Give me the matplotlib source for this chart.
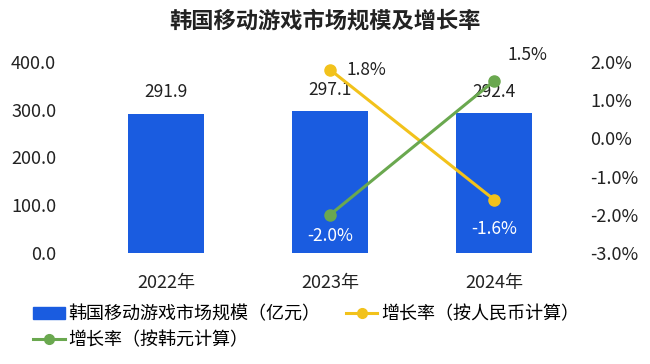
import matplotlib
matplotlib.use("Agg")
import matplotlib.pyplot as plt
from matplotlib.lines import Line2D
from matplotlib.patches import Patch

plt.rcParams['font.family'] = ['Noto Sans CJK SC', 'DejaVu Sans']

years = ["2022年", "2023年", "2024年"]
market_size = [291.9, 297.1, 292.4]
growth_cny_years = [1, 2]
growth_cny = [1.8, -1.6]
growth_krw_years = [1, 2]
growth_krw = [-2.0, 1.5]

left_ticks = [0, 100, 200, 300, 400]
right_ticks = [-3, -2, -1, 0, 1, 2]

bar_color = "#1a5ce0"
yellow = "#f2c21b"
green = "#6aa84f"
text_color = "#222222"

fig = plt.figure(figsize=(6.5, 3.64), dpi=100)
ax = fig.add_axes([84/650, 1-253/364, (576-84)/650, (253-62)/364])
ax2 = ax.twinx()

x = list(range(len(years)))
bars = ax.bar(x, market_size, width=0.46, color=bar_color, zorder=2)
ax.set_xlim(-0.5, 2.5)
ax.set_ylim(0, 400)
ax.set_yticks(left_ticks)
ax.set_yticklabels([f"{v:.1f}" for v in left_ticks])
ax.set_xticks(x)
ax.set_xticklabels(years)

for xi, v in zip(x, market_size):
    ax.annotate(f"{v:.1f}", (xi, v), xytext=(0, 9), textcoords="offset points",
                ha="center", va="bottom", fontsize=12.5, color=text_color)

ax2.set_ylim(-3, 2)
ax2.set_yticks(right_ticks)
ax2.set_yticklabels([f"{v:.1f}%" for v in right_ticks])

ax2.plot(growth_cny_years, growth_cny, color=yellow, lw=2.2, marker="o", ms=8,
         zorder=3)
ax2.plot(growth_krw_years, growth_krw, color=green, lw=2.2, marker="o", ms=8,
         zorder=3)

# labels for lines
ax2.annotate(f"{growth_cny[0]:.1f}%", (growth_cny_years[0], growth_cny[0]),
             xytext=(12, 0), textcoords="offset points", ha="left", va="center",
             fontsize=12.5, color=text_color)
ax2.annotate(f"{growth_cny[1]:.1f}%", (growth_cny_years[1], growth_cny[1]),
             xytext=(0, -15), textcoords="offset points", ha="center", va="top",
             fontsize=12.5, color="white")
ax2.annotate(f"{growth_krw[0]:.1f}%", (growth_krw_years[0], growth_krw[0]),
             xytext=(0, -9), textcoords="offset points", ha="center", va="top",
             fontsize=12.5, color="white")
ax2.annotate(f"{growth_krw[1]:.1f}%", (growth_krw_years[1], growth_krw[1]),
             xytext=(10, 12), textcoords="offset points", ha="left", va="bottom",
             fontsize=12.5, color=text_color)

for a in (ax, ax2):
    for s in a.spines.values():
        s.set_visible(False)
    a.tick_params(length=0, labelsize=13, colors=text_color)
ax.tick_params(axis="x", pad=15, labelsize=13)
ax.tick_params(axis="y", pad=20)
ax2.tick_params(axis="y", pad=10)

fig.suptitle("韩国移动游戏市场规模及增长率", x=0.5, y=0.975, fontsize=16,
             fontweight="bold", color=text_color)

handles = [
    Patch(color=bar_color, label="韩国移动游戏市场规模（亿元）"),
    Line2D([], [], color=green, lw=2.2, marker="o", ms=7, label="增长率（按韩元计算）"),
    Line2D([], [], color=yellow, lw=2.2, marker="o", ms=7, label="增长率（按人民币计算）"),
]
fig.legend(handles=handles, ncol=2, loc="upper left",
           bbox_to_anchor=(26/650, 1-298/364), frameon=False, fontsize=13,
           handlelength=1.75, handletextpad=0.2, columnspacing=1.4,
           labelspacing=0.45, borderaxespad=0)

fig.savefig("out.png", dpi=100)
